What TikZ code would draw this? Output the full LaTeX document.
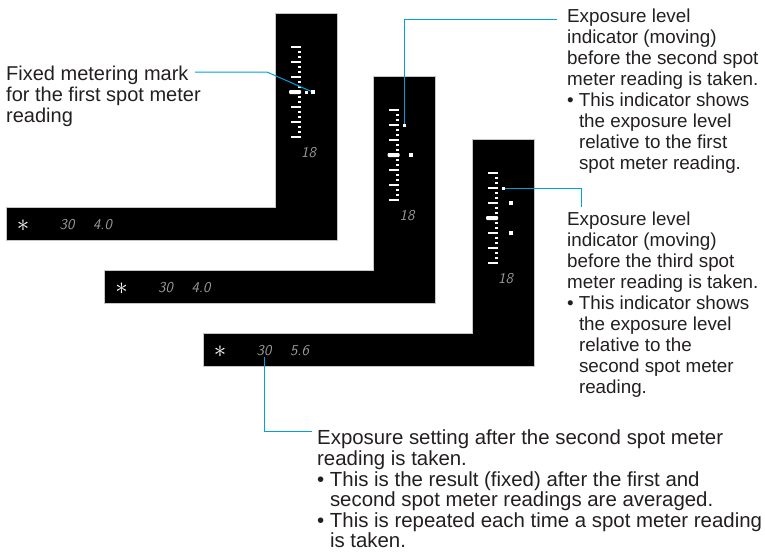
\documentclass[tikz,border=0pt]{standalone}
\usepackage{fontspec}
\setmainfont{Liberation Sans}
\usetikzlibrary{calc}

\definecolor{leaderblue}{RGB}{0,160,222}
\definecolor{notetext}{RGB}{35,31,32}
\newcommand{\hang}{\phantom{\textbullet\ }}

% one viewfinder panel: x shift, y shift, aperture, name prefix
\newcommand{\finderpanel}[4]{%
  \begin{scope}[shift={(#1,#2)}]
    \filldraw[panel] (275,13) -- (337,13) -- (337,240) -- (6,240) -- (6,207) -- (275,207) -- cycle;
    \foreach \k in {0,...,6}
      \fill[scaletick] (290.5,{45.8+15*\k}) rectangle (300.5,{48.2+15*\k});
    \foreach \k in {0,...,5} {
      \fill[scaletick] (297.5,{51+15*\k}) rectangle (300.5,{53+15*\k});
      \fill[scaletick] (297.5,{56+15*\k}) rectangle (300.5,{58+15*\k});
    }
    \fill[scaletick, rounded corners=1pt] (289,90) rectangle (301,94);
    \node[lcdstar] (#4star) at (23,226) {$\ast$};
    \node[lcd] (#4shutter) at (67,225) {30};
    \node[lcd] (#4aperture) at (102.5,225) {#3};
    \node[lcd] (#4iso) at (308.5,153) {18};
  \end{scope}}

\begin{document}
\begin{tikzpicture}[
  x=1pt, y=-1pt,
  panel/.style={fill=black, draw=gray!45, line width=0.6pt},
  scaletick/.style={fill=white},
  lcd/.style={text=gray!80, font=\fontsize{15}{15}\sffamily\itshape, inner sep=1pt},
  lcdstar/.style={text=white, font=\fontsize{26}{26}\selectfont, inner sep=0pt},
  note/.style={font=\fontsize{20}{21}\selectfont, text=notetext, align=left, inner sep=0pt, anchor=north west},
  narrow/.style={font=\fontsize{18.8}{21}\selectfont},
  wide/.style={font=\fontsize{20.4}{20.6}\selectfont},
  leader/.style={draw=leaderblue, line width=1pt}
]
  \useasboundingbox (0,0) rectangle (765,552);

  \finderpanel{0}{0}{4.0}{p1}
  \finderpanel{98.5}{63}{4.0}{p2}
  \finderpanel{197}{126}{5.6}{p3}

  % indicators and fixed marks
  \coordinate (ind1) at (306,92);
  \coordinate (fix1) at (312.5,92);
  \coordinate (ind2) at (404.5,125);
  \coordinate (fix2) at (411,155);
  \coordinate (ind3) at (503,188);
  \coordinate (fix3a) at (511,203);
  \coordinate (fix3b) at (511,233);

  % notes
  \node[note] (notefixed) at (6,65.7) {Fixed metering mark\\for the first spot meter\\reading};
  \node[note, narrow] (notesecond) at (567,9) {Exposure level\\indicator (moving)\\before the second spot\\meter reading is taken.\\\textbullet\ This indicator shows\\\hang the exposure level\\\hang relative to the first\\\hang spot meter reading.};
  \node[note, narrow] (notethird) at (567,212) {Exposure level\\indicator (moving)\\before the third spot\\meter reading is taken.\\\textbullet\ This indicator shows\\\hang the exposure level\\\hang relative to the\\\hang second spot meter\\\hang reading.};
  \node[note, wide] (notesetting) at (317,430) {Exposure setting after the second spot meter\\reading is taken.\\\textbullet\ This is the result (fixed) after the first and\\\hang second spot meter readings are averaged.\\\textbullet\ This is repeated each time a spot meter reading\\\hang is taken.};

  \coordinate (lead1) at (195,72);
  \coordinate (lead2) at (557,19);
  \coordinate (lead3) at (581,207);
  \coordinate (lead4) at (312,431);

  \draw[leader] (lead1) -- ++(72,0) -- (fix1);
  \draw[leader] (ind2) |- (lead2);
  \draw[leader] (ind3) -| (lead3);
  \draw[leader] (p3shutter.south) |- (lead4);

  \foreach \c in {ind1,ind2,ind3}
    \fill[white] ($(\c)+(-1.5,-1.5)$) rectangle ++(3,3);
  \foreach \c in {fix1,fix2,fix3a,fix3b}
    \fill[white] ($(\c)+(-2,-2)$) rectangle ++(4,4);
\end{tikzpicture}
\end{document}
